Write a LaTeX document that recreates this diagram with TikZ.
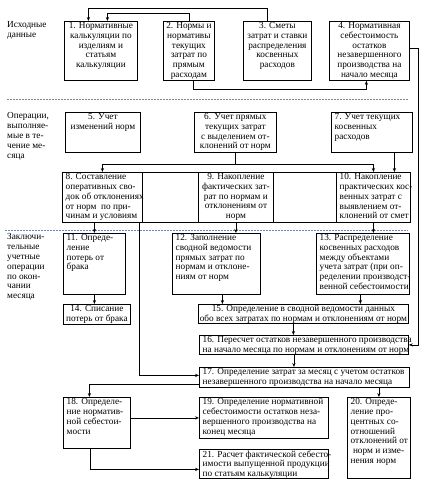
\documentclass[tikz,border=0pt]{standalone}
\usepackage{fontspec}
\setmainfont{Liberation Serif}
\usetikzlibrary{arrows.meta,calc}
\definecolor{sepcol}{RGB}{120,130,165}
\newcommand\mybox[5]{%
  \node[boxst,minimum width={(#4-#2)*1bp},minimum height={(#5-#3)*1bp}] (#1) at (#2,#3) {};}
\newcommand\ctext[3]{%
  \node[txt,align=center,anchor=north] (#1) at ([yshift=-1.2bp]#2.north) {#3};}
\newcommand\ltext[3]{%
  \node[txt,align=left,anchor=north west] (#1) at ([xshift=3.5bp,yshift=-1.2bp]#2.north west) {#3};}
\begin{document}
\begin{tikzpicture}[x=1bp,y=-1bp,
  boxst/.style={draw,line width=0.8pt,inner sep=0pt,anchor=north west},
  txt/.style={inner sep=0pt,font=\fontsize{9.3}{9.85}\selectfont},
  arr/.style={line width=0.8pt,-{Stealth[length=4bp,width=3.2bp]}},
  ln/.style={line width=0.8pt},
  sep/.style={line width=0.6pt,dash pattern=on 1.6bp off 1.4bp,draw=sepcol}]
\useasboundingbox (0,0) rectangle (426,485);

% separators
\draw[sep] (7,99) -- (408,99);
\draw[sep] (5,230) -- (408,230);

% section labels
\node[txt,align=left,anchor=north west] (s1) at (7,21.5) {Исходные\\данные};
\node[txt,align=left,anchor=north west] (s2) at (7,112.5) {Операции,\\выполняе-\\мые в те-\\чение ме-\\сяца};
\node[txt,align=left,anchor=north west] (s3) at (7,233.5) {Заключи-\\тельные\\учетные\\операции\\по окон-\\чании\\месяца};

% boxes
\mybox{b1}{64}{21}{137}{80}
\mybox{b2}{163}{21}{214}{80}
\mybox{b3}{243}{21}{311}{80}
\mybox{b4}{329}{21}{409}{80}
\mybox{b5}{65}{112}{140}{152}
\mybox{b6}{194}{112}{276}{152}
\mybox{b7}{331}{112}{412}{152}
\mybox{b8}{62}{172}{142}{222}
\mybox{e1}{142}{172}{198}{222}
\mybox{b9}{198}{172}{273}{222}
\mybox{e2}{273}{172}{336}{222}
\mybox{b10}{336}{172}{410}{222}
\mybox{b11}{63}{233}{125}{294}
\mybox{b12}{172}{233}{260}{294}
\mybox{b13}{316}{233}{409}{294}
\mybox{b14}{63}{304}{130}{324}
\mybox{b15}{198}{304}{408}{323}
\mybox{b16}{199}{335}{408}{354}
\mybox{b17}{199}{367}{409}{387}
\mybox{b18}{63}{397}{130}{448}
\mybox{b19}{199}{397}{328}{438}
\mybox{b20}{347}{397}{410}{478}
\mybox{b21}{199}{449}{328}{478}

% texts
\ctext{t1}{b1}{1. Нормативные\\калькуляции по\\изделиям и\\статьям\\калькуляции}
\ctext{t2}{b2}{2. Нормы и\\нормативы\\текущих\\затрат по\\прямым\\расходам}
\ctext{t3}{b3}{3. Сметы\\затрат и ставки\\распределения\\косвенных\\расходов}
\ctext{t4}{b4}{4. Нормативная\\себестоимость\\остатков\\незавершенного\\производства на\\начало месяца}
\ctext{t5}{b5}{5. Учет\\изменений норм}
\ctext{t6}{b6}{6. Учет прямых\\текущих затрат\\с выделением от-\\клонений от норм}
\ltext{t7}{b7}{7. Учет текущих\\косвенных\\расходов}
\ltext{t8}{b8}{8. Составление\\оперативных сво-\\док об отклонениях\\от норм~~по при-\\чинам и условиям}
\ctext{t9}{b9}{9. Накопление\\фактических зат-\\рат по нормам и\\отклонениям от\\норм}
\ltext{t10}{b10}{10. Накопление\\практических кос-\\венных затрат с\\выявлением от-\\клонений от смет}
\ltext{t11}{b11}{11. Опреде-\\ление\\потерь от\\брака}
\ltext{t12}{b12}{12. Заполнение\\сводной ведомости\\прямых затрат по\\нормам и отклоне-\\ниям от норм}
\ltext{t13}{b13}{13. Распределение\\косвенных расходов\\между объектами\\учета затрат (при оп-\\ределении производст-\\венной себестоимости}
\ctext{t14}{b14}{14. Списание\\потерь от брака}
\ctext{t15}{b15}{15. Определение в сводной ведомости данных\\обо всех затратах по нормам и отклонениям от норм}
\ltext{t16}{b16}{16. Пересчет остатков незавершенного производства\\на начало месяца по нормам и отклонениям от норм}
\ltext{t17}{b17}{17. Определение затрат за месяц с учетом остатков\\незавершенного производства на начало месяца}
\ltext{t18}{b18}{18. Определе-\\ние норматив-\\ной себестои-\\мости}
\ltext{t19}{b19}{19. Определение нормативной\\себестоимости остатков неза-\\вершенного производства на\\конец месяца}
\ltext{t20}{b20}{20. Опреде-\\ление про-\\центных со-\\отношений\\отклонений от\\~норм и изме-\\нения норм}
\ltext{t21}{b21}{21. Расчет фактической себесто-\\имости выпущенной продукции\\по статьям калькуляции}

% connectors
\draw[arr] ([xshift=-10bp]b3.north) -- ++(0,-13) -| ([xshift=-12.5bp]b1.north);
\draw[arr] (b2.north) -- ++(0,-8) -| ([xshift=6.5bp]b1.north);
\draw[arr] ([xshift=4.5bp]b2.south) -- ++(0,9) -| ([xshift=-3bp]b4.south);
\draw[arr] ([yshift=2.5bp]b4.east) -- ++(9,0) |- (b16.east);

\draw[ln] (b6.south) -- ++(0,12) coordinate (j6);
\draw[arr] (j6) -| (b8.north);
\draw[arr] (j6) -| (b10.north);
\coordinate (p7) at ([xshift=22.5bp]b7.south);
\draw[arr] (p7) -- (p7 |- b10.north);

\draw[arr] (b11.north |- b8.south) -- (b11.north);
\draw[arr] ([xshift=-3bp]b8.south east) |- ([yshift=2bp]b17.west);
\draw[arr] (b9.south) -- (b9.south |- b12.north);
\draw[arr] (b10.south) -- (b10.south |- b13.north);
\draw[arr] (b11.south) -- (b11.south |- b14.north);

\coordinate (p12) at ([xshift=6bp]b12.south);
\draw[arr] (p12) -- (p12 |- b15.north);
\coordinate (p13) at ([xshift=-2.5bp]b13.south);
\draw[arr] (p13) -- (p13 |- b15.north);
\coordinate (p15) at ([xshift=-10bp]b15.south);
\draw[arr] (p15) -- (p15 |- b16.north);
\coordinate (p16) at ([xshift=-10bp]b16.south);
\draw[arr] (p16) -- (p16 |- b17.north);
\draw[arr] (b20.north |- b17.south) -- (b20.north);

\draw[arr] ([yshift=-7bp]b17.west) -| ([xshift=-7.5bp]b18.north);
\draw[arr] (b18.east |- b19.west) -- (b19.west);
\draw[arr] ([xshift=-6.5bp]b18.south) |- ([yshift=-5.5bp]b21.west);
\end{tikzpicture}
\end{document}
